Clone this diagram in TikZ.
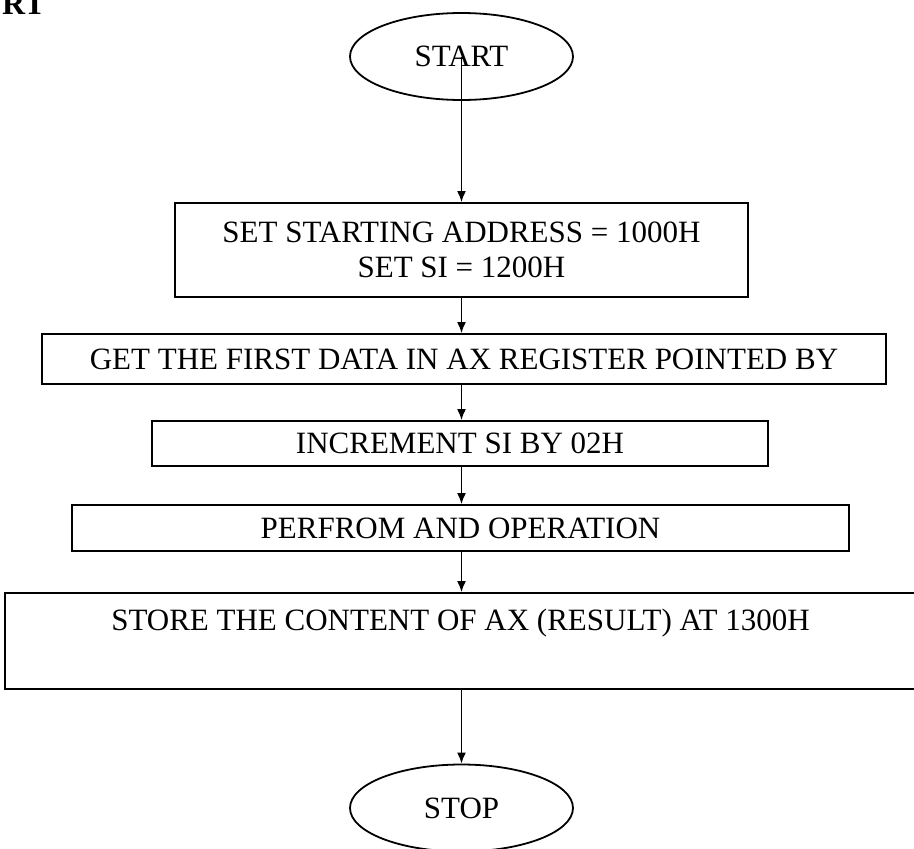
\documentclass[tikz,border=0pt]{standalone}
\usepackage{fontspec}
\setmainfont{Liberation Serif}
\usetikzlibrary{shapes.geometric,arrows.meta}
\begin{document}
\begin{tikzpicture}[x=1pt,y=1pt,
  box/.style={draw, line width=1.8pt, rectangle, inner sep=0pt, align=center, font=\fontsize{31}{35}\selectfont},
  term/.style={draw, line width=1.8pt, ellipse, inner sep=0pt, minimum width=223pt, minimum height=87pt, font=\fontsize{31}{35}\selectfont},
  arr/.style={line width=1.8pt, -{Latex[length=11pt,width=9pt]}}]
\useasboundingbox (0,0) rectangle (914,-849);
\clip (0,0) rectangle (914,-849);
\node[anchor=base west, inner sep=0pt, font=\bfseries\fontsize{32}{32}\selectfont] (head) at (2,-14) {RT};
\node[term] (start) at (461.5,-56.5) {START};
\node[box, minimum width=573pt, minimum height=94pt] (b1) at (461.5,-250) {SET STARTING ADDRESS = 1000H\\SET SI = 1200H};
\node[box, minimum width=844pt, minimum height=50pt] (b2) at (464,-359) {GET THE FIRST DATA IN AX REGISTER POINTED BY};
\node[box, minimum width=616pt, minimum height=45pt] (b3) at (460,-443.5) {INCREMENT SI BY 02H};
\node[box, minimum width=777pt, minimum height=46pt] (b4) at (460.5,-528) {PERFROM AND OPERATION};
\node[box, minimum width=911pt, text height=37pt, text depth=59pt] (b5) at (460.5,-641) {STORE THE CONTENT OF AX (RESULT) AT 1300H};
\node[term] (stop) at (461.5,-808) {STOP};
\draw[arr] (start.center) -- (start.center |- b1.north);
\draw[arr] (b1.south) -- (b1.south |- b2.north);
\draw[arr] (b1.south |- b2.south) -- (b1.south |- b3.north);
\draw[arr] (b1.south |- b3.south) -- (b1.south |- b4.north);
\draw[arr] (b1.south |- b4.south) -- (b1.south |- b5.north);
\draw[arr] (b1.south |- b5.south) -- (stop.north);
\end{tikzpicture}
\end{document}
